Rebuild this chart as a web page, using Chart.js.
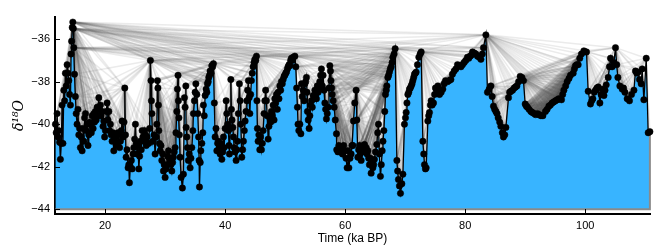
<!DOCTYPE html>
<html>
<head>
<meta charset="utf-8">
<script src="https://cdn.jsdelivr.net/npm/chart.js@4.4.1/dist/chart.umd.min.js"></script>
<style>
  html, body { margin: 0; padding: 0; background: #fff; }
</style>
</head>
<body>
<canvas id="chartCanvasVisibility" width="664" height="251"></canvas>
<script>
// age (ka BP) and d18O (permil)
const ageKa = [
  11.72,11.85,12.0,12.15,12.28,12.42,12.55,12.7,12.83,12.97,
  13.12,13.25,13.38,13.52,13.67,13.8,13.95,14.08,14.22,14.32,
  14.42,14.52,14.62,14.7,14.78,14.9,15.05,15.18,15.33,15.47,
  15.62,15.75,15.88,16.02,16.17,16.3,16.45,16.58,16.72,16.85,
  17.0,17.15,17.28,17.42,17.55,17.7,17.85,18.0,18.12,18.25,
  18.38,18.52,18.67,18.8,18.95,19.08,19.22,19.35,19.5,19.65,
  19.78,19.92,20.05,20.2,20.33,20.47,20.62,20.75,20.88,21.02,
  21.17,21.3,21.45,21.58,21.72,21.85,22.0,22.13,22.28,22.42,
  22.55,22.7,22.83,23.0,23.15,23.28,23.4,23.5,23.65,23.83,
  23.95,24.05,24.2,24.38,24.5,24.65,24.78,24.92,25.05,25.2,
  25.33,25.48,25.62,25.75,25.88,26.02,26.17,26.3,26.45,26.58,
  26.72,26.85,27.0,27.15,27.28,27.42,
  27.55,27.65,27.72,27.8,27.95,28.15,28.33,28.5,28.62,28.72,
  28.8,28.88,28.95,29.05,29.17,29.3,29.45,29.6,29.72,29.85,
  30.0,30.15,30.28,30.42,30.55,30.7,30.83,30.97,31.12,31.25,
  31.38,31.52,31.67,31.8,31.95,32.05,32.15,32.22,32.3,32.38,
  32.5,32.67,32.88,33.05,33.22,33.33,33.45,33.5,33.62,33.72,
  33.88,34.02,34.17,34.3,34.45,34.62,34.72,34.88,35.0,35.12,
  35.28,35.45,35.58,35.67,35.72,35.85,35.95,36.12,36.28,36.38,
  36.52,36.67,36.83,36.95,37.05,37.18,37.28,37.4,37.5,37.65,
  37.78,37.92,38.05,38.2,38.33,38.48,38.62,38.75,38.88,39.02,
  39.17,39.3,39.45,39.6,39.72,39.83,40.0,40.17,40.28,40.42,
  40.55,40.65,40.72,40.85,40.95,41.05,41.15,41.28,41.4,41.5,
  41.65,41.83,41.95,42.05,42.2,42.38,42.5,42.62,42.78,42.92,
  43.05,43.2,43.33,43.48,43.62,43.75,43.88,
  44.0,44.12,44.25,44.38,44.52,44.67,44.82,44.95,45.1,45.22,
  45.3,45.38,45.5,45.62,45.78,45.9,46.05,46.2,46.33,46.48,
  46.62,46.75,46.88,47.0,47.17,47.3,47.45,47.6,47.72,47.85,
  48.0,48.15,48.28,48.42,48.55,48.7,48.83,48.97,49.12,49.25,
  49.38,49.52,49.67,49.82,49.95,50.1,50.22,50.38,50.5,50.65,
  50.78,50.92,51.05,51.2,51.35,
  51.62,51.78,51.92,52.05,52.15,52.28,52.45,52.62,52.72,52.85,
  53.0,53.15,53.28,53.42,53.55,53.65,53.72,53.85,54.0,54.12,
  54.25,54.38,54.52,54.67,54.8,54.95,55.1,55.22,55.35,55.5,
  55.65,55.78,55.92,56.05,56.2,56.33,56.48,56.62,56.75,56.88,
  57.02,57.17,57.3,57.45,57.55,57.62,57.75,57.83,58.0,58.17,
  58.35,58.55,58.6,58.8,58.95,59.15,59.38,59.55,59.75,59.95,
  60.15,60.33,
  60.45,60.62,60.8,61.0,61.15,61.28,61.38,61.6,61.83,61.95,
  62.12,62.25,62.38,62.52,62.67,62.8,62.95,63.1,63.22,63.35,
  63.5,63.65,63.78,63.92,64.05,64.2,64.33,64.48,64.62,64.75,
  64.88,65.05,65.28,65.42,65.55,65.7,65.88,66.02,66.17,66.3,
  66.45,66.6,66.72,66.85,66.95,67.12,67.25,67.38,67.52,67.67,
  67.82,67.95,68.15,68.33,68.62,68.75,68.88,69.05,69.22,69.45,
  69.62,69.88,70.05,70.17,70.3,70.45,70.6,70.72,70.85,71.0,
  71.15,71.28,71.42,71.55,71.7,71.83,72.05,72.28,72.5,72.67,
  72.95,73.1,73.22,73.38,73.5,73.78,73.92,74.05,74.2,74.33,
  74.5,74.72,74.9,75.05,75.25,75.45,75.6,75.72,76.0,76.28,
  76.5,76.72,
  77.05,77.33,77.62,77.88,78.17,78.45,78.72,79.0,79.3,79.55,
  79.83,80.1,80.38,80.6,80.83,81.05,81.22,81.5,81.78,82.05,
  82.35,82.62,82.85,83.05,83.45,83.72,84.0,84.28,84.5,84.72,
  84.92,85.12,85.3,85.5,85.75,85.95,86.2,86.38,86.6,86.78,
  87.22,87.42,87.62,87.9,88.17,88.4,88.62,88.9,89.17,89.45,
  89.72,90.0,90.2,90.38,90.65,90.95,91.2,91.5,91.75,92.05,
  92.35,92.62,
  92.95,93.38,93.65,93.95,94.2,94.5,94.75,95.05,95.35,95.62,
  96.05,96.25,96.45,96.75,97.0,97.3,97.55,98.0,98.2,98.38,
  98.6,98.83,99.1,99.38,99.78,100.0,100.22,100.5,100.88,101.08,
  101.28,101.5,101.72,101.95,102.17,102.45,102.65,102.83,103.12,103.3,
  103.5,103.83,104.05,104.22,104.5,104.78,105.05,105.25,105.45,105.78,
  106.17,106.4,106.62,107.0,107.38,107.72,108.12,108.38,108.6,108.83,
  109.05,109.33,109.5,109.78,110.17,110.5,110.78
];

const d18O = [
  -40.0,-40.4,-39.5,-40.6,-40.3,-40.85,-41.65,-40.9,-39.1,-40.9,
  -38.4,-38.9,-37.6,-38.2,-37.2,-37.6,-37.95,-38.6,-39.1,-36.7,
  -36.1,-35.45,-35.2,-35.5,-36.4,-37.65,-38.7,-39.5,-40.0,-39.3,
  -40.5,-40.2,-41.1,-40.6,-41.25,-40.2,-40.8,-39.7,-39.5,-40.3,
  -40.0,-41.0,-40.5,-39.9,-40.0,-40.4,-39.6,-40.2,-39.5,-39.9,
  -39.4,-39.8,-39.2,-39.6,-38.75,-39.3,-39.1,-39.6,-39.4,-40.1,
  -39.85,-40.6,-40.3,-39.4,-39.0,-39.8,-39.4,-40.3,-40.0,-40.5,
  -40.8,-40.4,-41.25,-40.7,-40.6,-41.0,-40.9,-40.4,-40.5,-41.1,
  -40.8,-40.3,-39.85,-40.6,-39.9,-38.3,-40.5,-41.55,-41.2,-42.05,
  -41.9,-42.75,-42.0,-41.7,-42.1,-41.4,-41.1,-40.7,-40.0,-40.9,
  -41.4,-41.0,-42.1,-41.5,-40.8,-41.2,-40.3,-40.6,-40.8,-40.3,
  -40.5,-41.0,-40.6,-40.9,-40.9,-40.2,
  -37.0,-37.95,-38.9,-39.5,-40.8,-40.5,-41.4,-40.6,-40.0,-37.95,
  -38.3,-39.1,-40.3,-40.9,-41.25,-41.0,-41.7,-41.4,-42.2,-41.9,
  -42.5,-42.1,-41.9,-41.5,-41.25,-41.6,-41.7,-41.9,-42.2,-41.8,
  -41.55,-41.3,-41.1,-40.4,-39.4,-38.35,-37.7,-38.9,-39.7,-40.5,
  -41.55,-42.5,-43.0,-42.35,-38.75,-39.2,-38.2,-40.15,-40.6,-41.1,
  -41.7,-41.4,-42.05,-41.6,-41.1,-40.3,-39.5,-38.9,-38.5,-38.1,
  -38.6,-39.5,-40.6,-41.7,-42.95,-41.8,-41.25,-40.9,-40.4,-39.1,
  -39.6,-38.65,-38.35,-38.5,-38.1,-38.0,-37.8,-37.7,-37.5,-37.6,
  -37.25,-37.3,-37.15,-39.0,-40.6,-40.2,-41.25,-40.9,-40.8,-41.1,
  -41.4,-40.9,-41.65,-41.3,-40.6,-41.1,-40.2,-38.9,-39.5,-40.0,
  -40.3,-41.0,-41.4,-40.2,-37.9,-39.3,-39.8,-40.15,-40.6,-41.1,
  -41.3,-41.7,-41.2,-40.8,-39.5,-38.1,-38.9,-40.0,-41.55,-41.2,
  -40.8,-40.3,-39.85,-39.4,-38.9,-38.4,-37.95,
  -38.75,-39.5,-38.6,-37.95,-37.6,-37.3,-37.1,-36.95,-37.0,-36.8,
  -38.9,-40.2,-40.8,-40.5,-41.2,-40.6,-41.2,-40.9,-40.3,-39.5,
  -38.9,-38.4,-38.9,-39.6,-40.7,-40.1,-39.7,-39.9,-39.4,-39.6,
  -39.1,-39.8,-38.8,-39.0,-38.6,-39.3,-38.5,-38.8,-38.2,-38.4,
  -38.0,-38.1,-37.9,-37.75,-37.7,-37.6,-37.55,-37.4,-37.3,-37.2,
  -37.25,-37.0,-36.9,-37.0,-36.85,
  -36.8,-37.3,-38.3,-39.2,-40.0,-40.3,-40.0,-40.45,-38.1,-38.7,
  -38.4,-38.9,-38.1,-38.0,-37.8,-38.5,-39.4,-39.8,-40.2,-39.6,
  -39.1,-38.9,-39.2,-38.65,-38.8,-38.4,-38.6,-38.8,-38.2,-38.5,
  -38.3,-38.0,-37.7,-37.4,-38.2,-37.7,-38.4,-39.0,-39.3,-39.75,
  -39.5,-39.2,-38.3,-37.25,-37.5,-37.95,-38.3,-38.6,-38.9,-39.2,
  -39.8,-40.45,-41.2,-41.3,-41.0,-41.3,-41.1,-41.4,-41.0,-41.25,
  -41.6,-42.05,
  -41.25,-42.05,-41.6,-41.4,-41.0,-41.0,-39.85,-39.0,-38.4,-39.8,
  -41.55,-41.2,-41.0,-41.4,-41.7,-41.3,-41.25,-41.0,-40.95,-41.3,
  -41.1,-41.4,-41.25,-41.6,-41.9,-41.6,-42.3,-41.8,-42.05,-41.9,
  -41.65,-41.3,-40.95,-40.4,-40.0,-41.4,-42.45,-41.9,-41.25,-40.8,
  -40.3,-39.4,-38.6,-38.4,-38.2,-37.8,-37.7,-37.55,-37.4,-37.3,
  -37.1,-36.85,-36.7,-36.45,-41.7,-42.2,-42.6,-42.9,-43.25,-42.8,
  -42.35,-40.0,-39.7,-39.45,-39.0,-38.6,-38.5,-38.35,-38.3,-38.2,
  -38.1,-37.95,-37.8,-37.65,-37.6,-37.55,-37.2,-36.85,-36.7,-36.6,
  -40.8,-41.4,-41.9,-42.1,-42.05,-39.85,-39.6,-39.45,-39.1,-38.9,
  -39.1,-39.0,-38.6,-38.3,-38.4,-38.2,-38.4,-38.6,-38.5,-38.35,
  -38.1,-37.95,
  -38.0,-37.95,-37.9,-37.65,-37.5,-37.4,-37.2,-37.25,-37.3,-37.2,
  -37.1,-37.0,-36.85,-36.9,-36.8,-36.75,-36.6,-36.65,-36.7,-36.8,
  -36.85,-36.95,-36.7,-36.4,-35.8,-38.5,-38.35,-38.2,-38.7,-39.15,
  -39.3,-39.4,-39.5,-39.7,-39.9,-40.1,-40.4,-40.6,-40.5,-40.15,
  -38.75,-38.5,-38.45,-38.4,-38.3,-38.25,-38.2,-38.0,-37.75,-37.8,
  -37.95,-39.05,-39.15,-39.2,-39.3,-39.4,-39.45,-39.5,-39.55,-39.5,
  -39.55,-39.6,
  -39.6,-39.4,-39.3,-39.15,-39.1,-39.0,-38.95,-38.9,-38.85,-38.8,
  -38.85,-38.6,-38.4,-38.2,-38.0,-37.85,-37.7,-37.6,-37.4,-37.25,
  -37.2,-37.2,-36.9,-36.7,-36.55,-36.6,-36.6,-38.45,-39.05,-38.9,
  -38.8,-38.5,-38.4,-38.3,-38.25,-39.0,-38.6,-38.35,-38.65,-38.4,
  -38.15,-37.8,-37.3,-36.9,-37.3,-37.1,-36.4,-37.2,-37.8,-38.2,
  -38.35,-38.3,-38.5,-38.8,-38.9,-38.6,-38.4,-37.5,-37.6,-37.55,
  -37.9,-38.1,-37.4,-38.85,-36.9,-40.4,-40.35
];

const xTickValues = [20, 40, 60, 80, 100];
const yTickValues = [-44, -42, -40, -38, -36];
const fillBase = -44;

// natural visibility graph: j is visible from i when the slope i->j beats every slope in between
function visibilityEdges(t, y) {
  const edges = [];
  for (let i = 0; i < t.length - 1; i++) {
    let maxSlope = -Infinity;
    for (let j = i + 1; j < t.length; j++) {
      const s = (y[j] - y[i]) / (t[j] - t[i]);
      if (s > maxSlope) {
        edges.push([i, j]);
        maxSlope = s;
      }
    }
  }
  return edges;
}

const edges = visibilityEdges(ageKa, d18O);

const visibilityPlugin = {
  id: "visibility",
  beforeDatasetsDraw(chart) {
    const { ctx, scales: { x, y } } = chart;
    const n = ageKa.length;
    ctx.save();
    // outline of the filled area (base and right side)
    ctx.strokeStyle = "#8a8a8a";
    ctx.lineWidth = 2;
    ctx.beginPath();
    ctx.moveTo(x.getPixelForValue(ageKa[n - 1]), y.getPixelForValue(d18O[n - 1]));
    ctx.lineTo(x.getPixelForValue(ageKa[n - 1]), y.getPixelForValue(fillBase));
    ctx.lineTo(x.getPixelForValue(ageKa[0]), y.getPixelForValue(fillBase));
    ctx.stroke();

    ctx.strokeStyle = "rgba(90,90,90,0.12)";
    ctx.lineWidth = 1.5;
    for (const [i, j] of edges) {
      ctx.beginPath();
      ctx.moveTo(x.getPixelForValue(ageKa[i]), y.getPixelForValue(d18O[i]));
      ctx.lineTo(x.getPixelForValue(ageKa[j]), y.getPixelForValue(d18O[j]));
      ctx.stroke();
    }
    ctx.restore();
  },
  afterDraw(chart) {
    // inward tick marks
    const { ctx, chartArea, scales: { x, y } } = chart;
    ctx.save();
    ctx.strokeStyle = "#000";
    ctx.lineWidth = 1;
    ctx.beginPath();
    for (const v of xTickValues) {
      const px = Math.round(x.getPixelForValue(v)) + 0.5;
      ctx.moveTo(px, chartArea.bottom);
      ctx.lineTo(px, chartArea.bottom - 5);
    }
    for (const v of yTickValues) {
      const py = Math.round(y.getPixelForValue(v)) + 0.5;
      ctx.moveTo(chartArea.left, py);
      ctx.lineTo(chartArea.left + 5, py);
    }
    ctx.stroke();
    ctx.restore();
  }
};

const tickFont = { family: "'Liberation Sans', Arial, sans-serif", size: 11 };

new Chart(document.getElementById("chartCanvasVisibility"), {
  type: "line",
  data: {
    datasets: [{
      data: ageKa.map((t, i) => ({ x: t, y: d18O[i] })),
      borderColor: "#000",
      borderWidth: 1.3,
      backgroundColor: "#38b4ff",
      fill: { value: fillBase },
      pointRadius: 3.2,
      pointBackgroundColor: "#000",
      pointBorderColor: "#000",
      pointBorderWidth: 0.5,
      tension: 0,
      clip: false
    }]
  },
  options: {
    responsive: false,
    animation: false,
    devicePixelRatio: 1,
    layout: { padding: { top: 17, right: 14, left: 0, bottom: 0 } },
    plugins: {
      legend: { display: false },
      tooltip: { enabled: false },
      filler: { drawTime: "beforeDatasetsDraw" }
    },
    scales: {
      x: {
        type: "linear",
        min: 11.65,
        max: 110.8,
        afterFit: (s) => { s.height = 37; },
        afterBuildTicks: (s) => { s.ticks = xTickValues.map(v => ({ value: v })); },
        grid: { display: false, drawTicks: false },
        border: { display: true, color: "#000", width: 2 },
        ticks: { color: "#000", font: tickFont, padding: 5, maxRotation: 0 },
        title: {
          display: true,
          text: "Time (ka BP)",
          color: "#000",
          font: { family: "'Liberation Sans', Arial, sans-serif", size: 12 },
          padding: { top: 0, bottom: 5 }
        }
      },
      y: {
        type: "linear",
        min: -44.22,
        max: -34.96,
        afterFit: (s) => { s.width = 55; },
        afterBuildTicks: (s) => { s.ticks = yTickValues.map(v => ({ value: v })); },
        grid: { display: false, drawTicks: false },
        border: { display: true, color: "#000", width: 2 },
        ticks: {
          color: "#000",
          font: tickFont,
          padding: 5,
          callback: (v) => String(v).replace("-", "\u2212")
        },
        title: {
          display: true,
          text: "\u03b4\u00b9\u2078O",
          color: "#000",
          font: { family: "'DejaVu Serif', serif", size: 14, style: "italic" },
          padding: { top: 11, bottom: 0 }
        }
      }
    }
  },
  plugins: [visibilityPlugin]
});
</script>
</body>
</html>
